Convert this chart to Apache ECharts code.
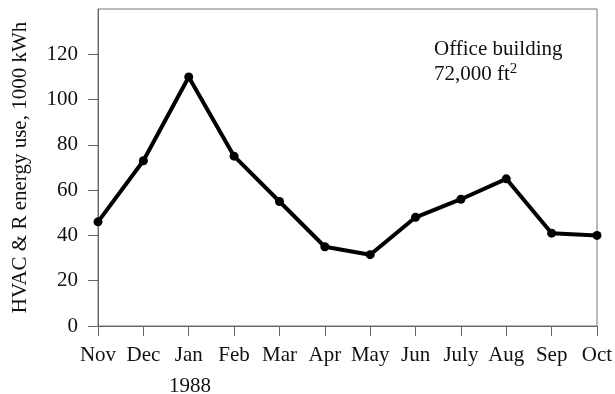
<!DOCTYPE html>
<html>
<head>
<meta charset="utf-8">
<script src="https://cdn.jsdelivr.net/npm/echarts@6/dist/echarts.min.js"></script>
<style>
  html, body { margin: 0; padding: 0; background: #fff; }
  #chart { width: 615px; height: 394px; }
</style>
</head>
<body>
<div id="chart"></div>
<script>
// Monthly HVAC & R energy use for an office building, Nov 1987 – Oct 1988
const months = ['Nov', 'Dec', 'Jan', 'Feb', 'Mar', 'Apr', 'May', 'Jun', 'July', 'Aug', 'Sep', 'Oct'];
const energyUse = [46, 73, 110, 75, 55, 35, 31.5, 48, 56, 65, 41, 40];
const yTicks = [0, 20, 40, 60, 80, 100, 120];
const yTitle = 'HVAC & R energy use, 1000 kWh';
const yearLabel = '1988';
const noteLine1 = 'Office building';
const noteLine2 = '72,000 ft';

const serif = '"Liberation Serif", "DejaVu Serif", serif';
const FS = 21;
const chart = echarts.init(document.getElementById('chart'));

chart.setOption({
  animation: false,
  backgroundColor: '#fff',
  grid: {
    left: 98, right: 18, top: 9, bottom: 68,
    outerBoundsMode: 'none',
    containLabel: false,
    show: true, borderColor: '#777', borderWidth: 1
  },
  xAxis: {
    type: 'category',
    data: months,
    boundaryGap: false,
    axisLine: { lineStyle: { color: '#666', width: 1 } },
    axisTick: { show: true, length: 10, interval: 0, alignWithLabel: true, lineStyle: { color: '#666' } },
    axisLabel: { color: '#111', fontFamily: serif, fontSize: FS, margin: 19, interval: 0, hideOverlap: false },
    splitLine: { show: false }
  },
  yAxis: {
    type: 'value',
    min: 0, max: 140, interval: 20,
    name: yTitle,
    nameLocation: 'middle',
    nameGap: 67,
    nameTextStyle: { color: '#111', fontFamily: serif, fontSize: FS },
    axisLine: { show: true, lineStyle: { color: '#666', width: 1 } },
    axisTick: {
      show: true, length: 10, lineStyle: { color: '#666' },
      customValues: yTicks
    },
    axisLabel: {
      color: '#111', fontFamily: serif, fontSize: FS, margin: 20,
      customValues: yTicks
    },
    splitLine: { show: false }
  },
  series: [{
    type: 'line',
    data: energyUse,
    symbol: 'circle',
    symbolSize: 9,
    lineStyle: { color: '#000', width: 4 },
    itemStyle: { color: '#000' },
    z: 5
  }],
  graphic: [
    {
      type: 'text', left: 169, top: 376,
      style: { text: yearLabel, fill: '#111', font: FS + 'px ' + serif }
    },
    {
      type: 'text', left: 434, top: 37,
      style: {
        text: noteLine1 + '\n' + noteLine2 + '{sup|2}',
        fill: '#111',
        font: FS + 'px ' + serif,
        lineHeight: 25,
        rich: {
          sup: { fontFamily: serif, fontSize: 15, verticalAlign: 'top', padding: [0, 0, 9, 0], fill: '#111' }
        }
      }
    }
  ]
});
</script>
</body>
</html>
